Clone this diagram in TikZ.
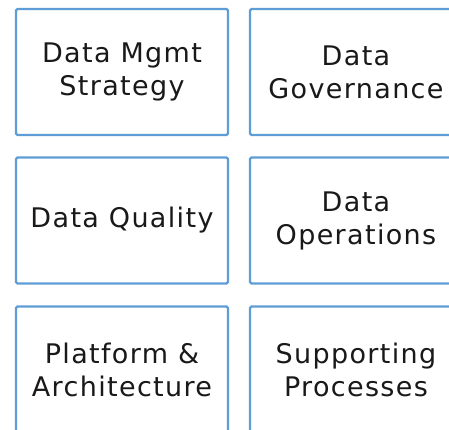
\documentclass[tikz,border=0pt]{standalone}
\usepackage{fontspec}
\setmainfont{DejaVu Sans}[LetterSpace=5]
\definecolor{boxline}{HTML}{5E9DD6}
\begin{document}
\begin{tikzpicture}[x=1pt,y=1pt,
  area/.style={draw=boxline, line width=2.3pt, rounded corners=1.5pt, fill=white,
    minimum width=212pt, minimum height=126pt, inner sep=0pt,
    align=center, font=\fontsize{27}{33}\selectfont},
  labeltext/.style={text=black!90}]
  \useasboundingbox (0,0) rectangle (449,429);
  \clip (0,0) rectangle (449,429);
  % grid of knowledge areas, two columns by three rows
  \node[area,labeltext] (strategy)   at (122,357) {Data Mgmt\\Strategy};
  \node[area,labeltext] (governance) at (356,357)   {Data\\Governance};
  \node[area,labeltext] (quality)    at (122,208.5) {Data Quality};
  \node[area,labeltext] (operations) at (356,208.5)   {Data\\Operations};
  \node[area,labeltext] (platform)   at (122,59.5) {Platform \&\\Architecture};
  \node[area,labeltext] (supporting) at (356,59.5)   {Supporting\\Processes};
\end{tikzpicture}
\end{document}
